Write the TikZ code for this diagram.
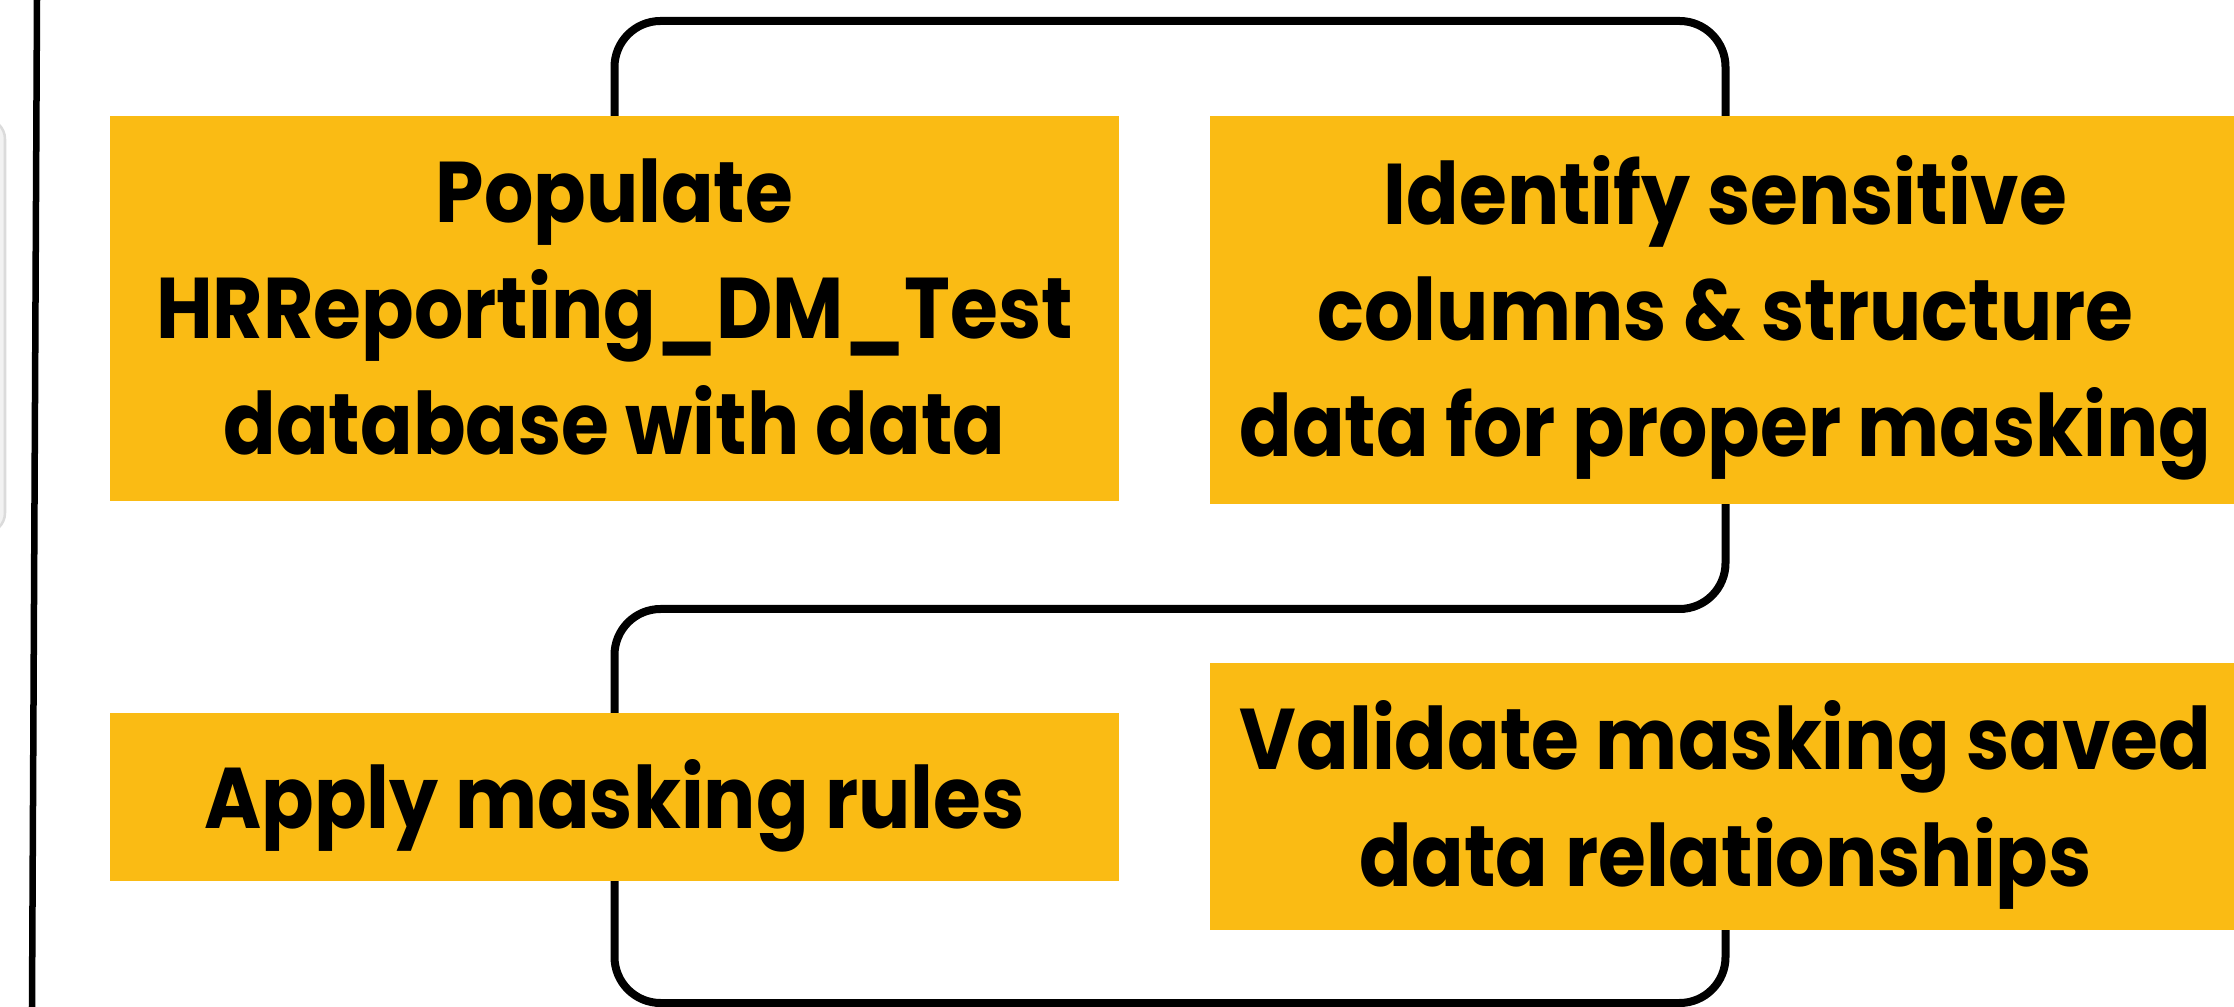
\documentclass[tikz,border=0pt]{standalone}
\usepackage{fontspec}
\newfontfamily\boxfont{Poppins}[FakeStretch=0.9]
\definecolor{boxyellow}{RGB}{250,187,20}
\tikzset{
  stepbox/.style={fill=boxyellow, draw=none, inner sep=0pt, rectangle},
  steptext/.style={anchor=base, align=center, inner sep=0pt,
    font=\boxfont\bfseries\fontsize{24.5pt}{33pt}\selectfont},
  conn/.style={draw=black, line width=0.08cm, rounded corners=0.46cm},
}
\begin{document}
\begin{tikzpicture}[x=0.01cm,y=-0.01cm]
\useasboundingbox (0,0) rectangle (2234,1007);
% light grey shape at the left edge
\fill[gray!10, draw=gray!28, line width=0.025cm, rounded corners=0.2cm] (-60,119) rectangle (5,533);
% left vertical rule
\coordinate (ltop) at (37,0);
\coordinate (lbot) at (32,1007);
\draw[line width=0.065cm] (ltop) -- (lbot);
% boxes
\node[stepbox, minimum width=10.07cm, minimum height=3.83cm] (b1) at (614.5,308.5) {};
\node[stepbox, minimum width=10.29cm, minimum height=3.86cm] (b2) at (1725.5,310) {};
\node[stepbox, minimum width=10.07cm, minimum height=1.66cm] (b3) at (614.5,797) {};
\node[stepbox, minimum width=10.29cm, minimum height=2.65cm] (b4) at (1725.5,796.5) {};
% connector corner points
\coordinate (c1) at (1725.5,21);
\coordinate (c2) at (614.5,609);
\coordinate (c3) at (1725.5,1003);
\draw[conn] (b1.north) |- (c1) -- (b2.north);
\draw[conn] (b2.south) |- (c2) -- (b3.north);
\draw[conn] (b3.south) |- (c3) -- (b4.south);
% redraw boxes on top of the connectors
\fill[boxyellow] (b1.north west) rectangle (b1.south east);
\fill[boxyellow] (b2.north west) rectangle (b2.south east);
\fill[boxyellow] (b3.north west) rectangle (b3.south east);
\fill[boxyellow] (b4.north west) rectangle (b4.south east);
% texts (base anchor = baseline of the last line)
\node[steptext] (t1) at (614.5,455) {Populate\\HRReporting\_DM\_Test\\database with data};
\node[steptext] (t2) at (1725.5,457) {Identify sensitive\\columns \& structure\\data for proper masking};
\node[steptext] (t3) at (614.5,828) {Apply masking rules};
\node[steptext] (t4) at (1725.5,886) {Validate masking saved\\data relationships};
\end{tikzpicture}
\end{document}
